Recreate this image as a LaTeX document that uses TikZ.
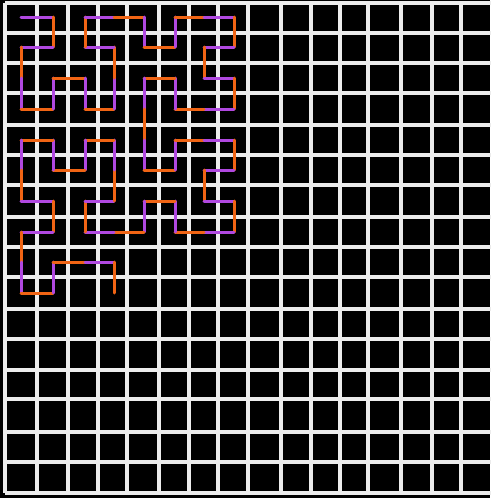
\documentclass[tikz,border=0pt]{standalone}
\definecolor{gridc}{RGB}{236,236,236}
\definecolor{purp}{RGB}{176,72,224}
\definecolor{orng}{RGB}{240,100,20}
\begin{document}
\begin{tikzpicture}[x=1pt,y=-1pt,
  gridline/.style={line width=3.2pt,draw=gridc},
  seg0/.style={line width=3pt,draw=purp,line cap=round,line join=round},
  seg1/.style={line width=3pt,draw=orng,line cap=round,line join=round}]
\useasboundingbox (0,0) rectangle (490,498);
\fill[black] (0,0) rectangle (490,498);
\foreach \x in {5,37,68,98,127,159,189,218,248,281,311,340,368,401,432,461}
  \draw[gridline] (\x,3) -- (\x,493);
\foreach \y in {3,33,63,93,125,155,185,217,247,277,309,339,370,399,432,462,493}
  \draw[gridline] (5,\y) -- (492,\y);
\foreach [count=\i from 0] \c/\r in {0/0,1/0,1/1,0/1,0/2,0/3,1/3,1/2,2/2,2/3,3/3,3/2,3/1,2/1,2/0,3/0,
  4/0,4/1,5/1,5/0,6/0,7/0,7/1,6/1,6/2,7/2,7/3,6/3,5/3,5/2,4/2,4/3,
  4/4,4/5,5/5,5/4,6/4,7/4,7/5,6/5,6/6,7/6,7/7,6/7,5/7,5/6,4/6,4/7,
  3/7,2/7,2/6,3/6,3/5,3/4,2/4,2/5,1/5,1/4,0/4,0/5,0/6,1/6,1/7,0/7,
  0/8,0/9,1/9,1/8,2/8,3/8,3/9}{
  \pgfmathsetmacro\px{{21,53,85,114,144,175,204,234}[\c]}
  \pgfmathsetmacro\py{{17,47,78,109,140,170,201,232,262,293}[\r]}
  \coordinate (p\i) at (\px,\py);
}
\foreach \i in {0,...,69}{
  \pgfmathtruncatemacro\j{\i+1}
  \pgfmathtruncatemacro\m{mod(\i,2)}
  \draw[seg\m] (p\i) -- (p\j);
}
\end{tikzpicture}
\end{document}
